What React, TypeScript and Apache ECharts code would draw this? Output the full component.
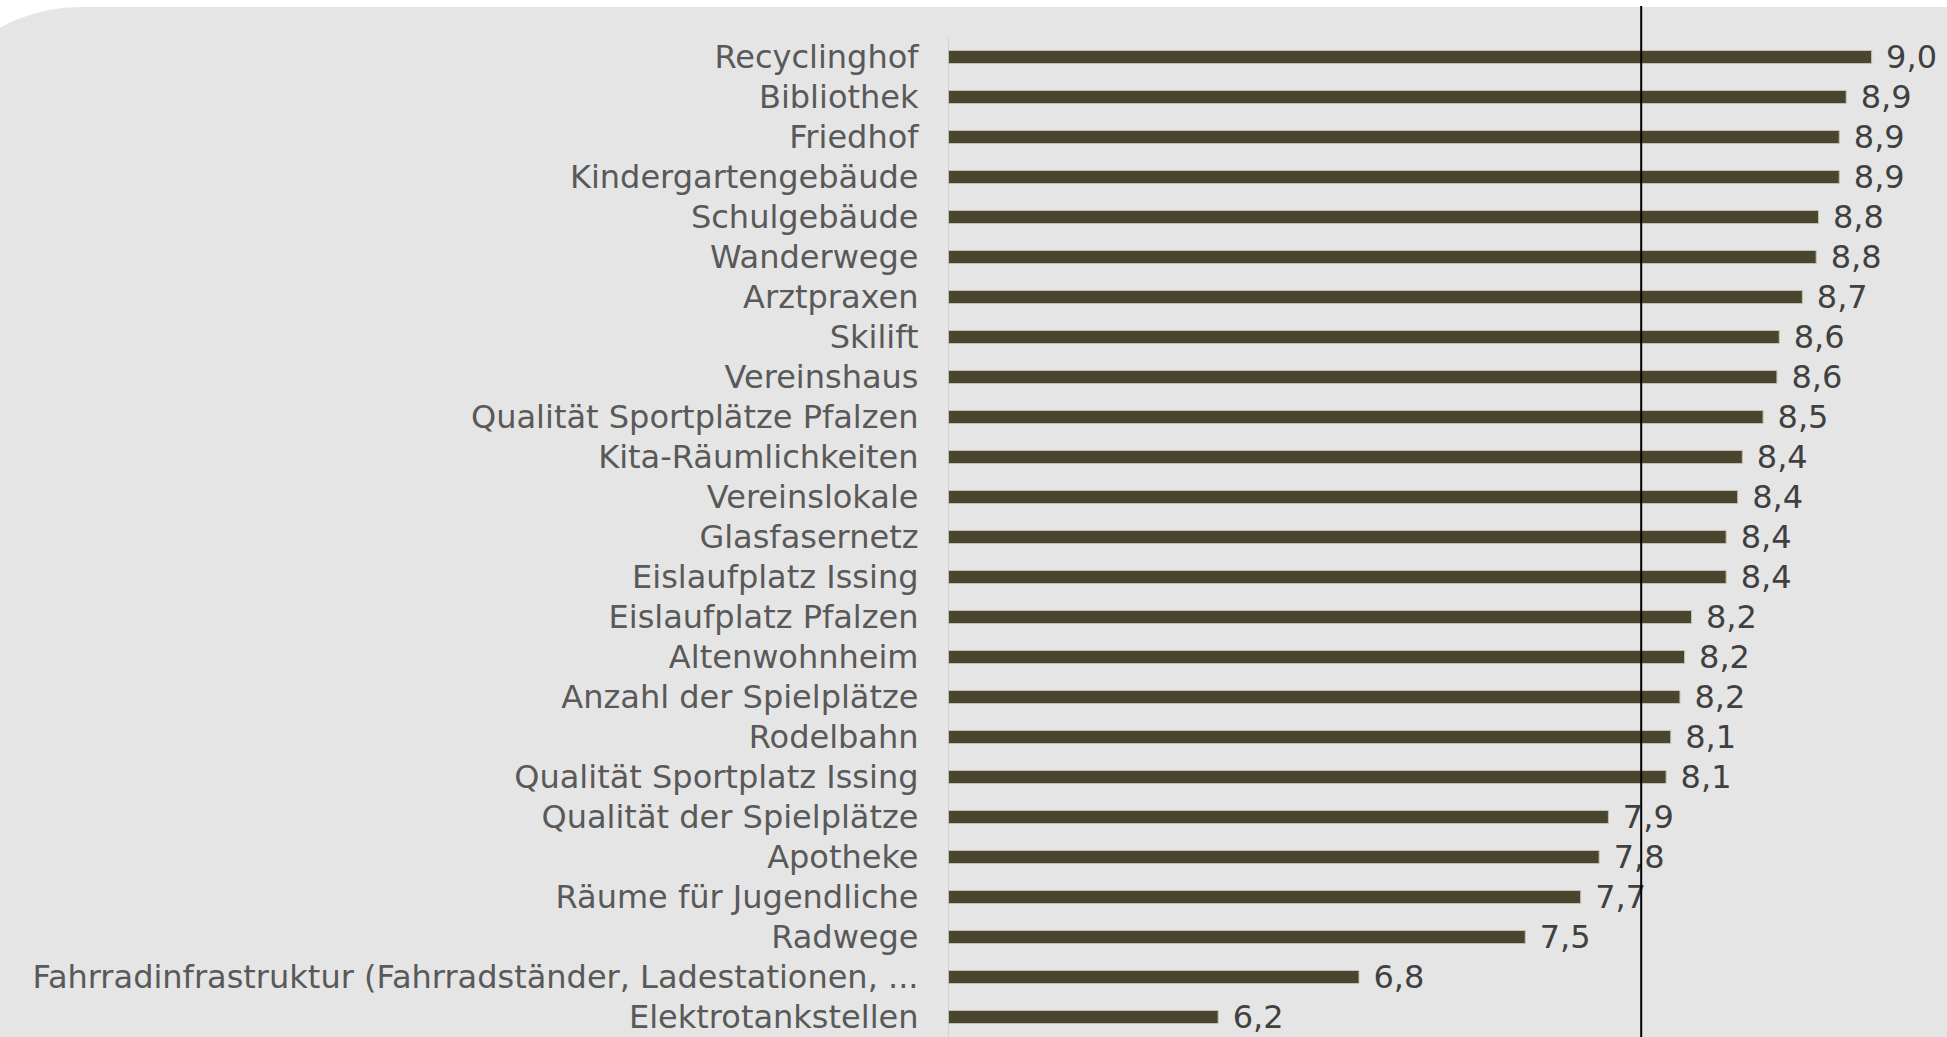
import React, { useEffect, useRef } from "react";
import * as echarts from "echarts";

const categories = [
  "Recyclinghof",
  "Bibliothek",
  "Friedhof",
  "Kindergartengebäude",
  "Schulgebäude",
  "Wanderwege",
  "Arztpraxen",
  "Skilift",
  "Vereinshaus",
  "Qualität Sportplätze Pfalzen",
  "Kita-Räumlichkeiten",
  "Vereinslokale",
  "Glasfasernetz",
  "Eislaufplatz Issing",
  "Eislaufplatz Pfalzen",
  "Altenwohnheim",
  "Anzahl der Spielplätze",
  "Rodelbahn",
  "Qualität Sportplatz Issing",
  "Qualität der Spielplätze",
  "Apotheke",
  "Räume für Jugendliche",
  "Radwege",
  "Fahrradinfrastruktur (Fahrradständer, Ladestationen, ...",
  "Elektrotankstellen",
];

const values = [
  9.0, 8.89, 8.86, 8.86, 8.77, 8.76, 8.7, 8.6, 8.59, 8.53, 8.44, 8.42, 8.37,
  8.37, 8.22, 8.19, 8.17, 8.13, 8.11, 7.86, 7.82, 7.74, 7.5, 6.78, 6.17,
];

const referenceValue = 8.0;
const axisMin = 5;
const axisMax = 9.2;

export default function App() {
  const ref = useRef<HTMLDivElement>(null);

  useEffect(() => {
    if (!ref.current) return;
    const chart = echarts.init(ref.current, undefined, { renderer: "svg" });
    const pxPerUnit = 230.9;
    const gridLeft = 948.5;
    const gridWidth = (axisMax - axisMin) * pxPerUnit;
    chart.setOption({
      animation: false,
      backgroundColor: "#ffffff",
      graphic: [
        {
          type: "rect",
          z: -10,
          silent: true,
          shape: { x: -85, y: 7, width: 2200, height: 1300, r: [165, 0, 0, 0] },
          style: { fill: "#e4e5e4" },
        },
      ],
      grid: [
        { left: gridLeft, top: 37, width: gridWidth, height: 1000 },
        { left: gridLeft, top: 6, width: gridWidth, height: 1031 },
      ],
      xAxis: [
        { type: "value", gridIndex: 0, min: axisMin, max: axisMax, show: false },
        { type: "value", gridIndex: 1, min: axisMin, max: axisMax, show: false },
      ],
      yAxis: [
        {
          type: "category",
          gridIndex: 0,
          data: categories,
          inverse: true,
          axisTick: { show: false },
          axisLine: { show: true, lineStyle: { color: "#d2d3d2", width: 1 } },
          axisLabel: {
            interval: 0,
            hideOverlap: false,
            margin: 30,
            fontSize: 32,
            fontFamily: "DejaVu Sans",
            color: "#595959",
          },
          splitLine: { show: false },
        },
        { type: "value", gridIndex: 1, min: 0, max: 1, show: false },
      ],
      series: [
        {
          type: "bar",
          xAxisIndex: 0,
          yAxisIndex: 0,
          data: values,
          barWidth: 14,
          itemStyle: { color: "#4a452e", borderColor: "#c2bfae", borderWidth: 1 },
          label: {
            show: true,
            position: "right",
            distance: 14,
            fontSize: 32,
            fontFamily: "DejaVu Sans",
            color: "#404040",
            formatter: (p: any) => Number(p.value).toFixed(1).replace(".", ","),
          },
          z: 2,
        },
        {
          type: "line",
          xAxisIndex: 1,
          yAxisIndex: 1,
          data: [
            [referenceValue, 0],
            [referenceValue, 1],
          ],
          showSymbol: false,
          symbol: "none",
          lineStyle: { color: "#000000", width: 2 },
          z: 5,
          silent: true,
        },
      ],
    });
    return () => chart.dispose();
  }, []);

  return (
    <div
      ref={ref}
      style={{ position: "fixed", left: 0, top: 0, width: "1947px", height: "1037px" }}
    />
  );
}
